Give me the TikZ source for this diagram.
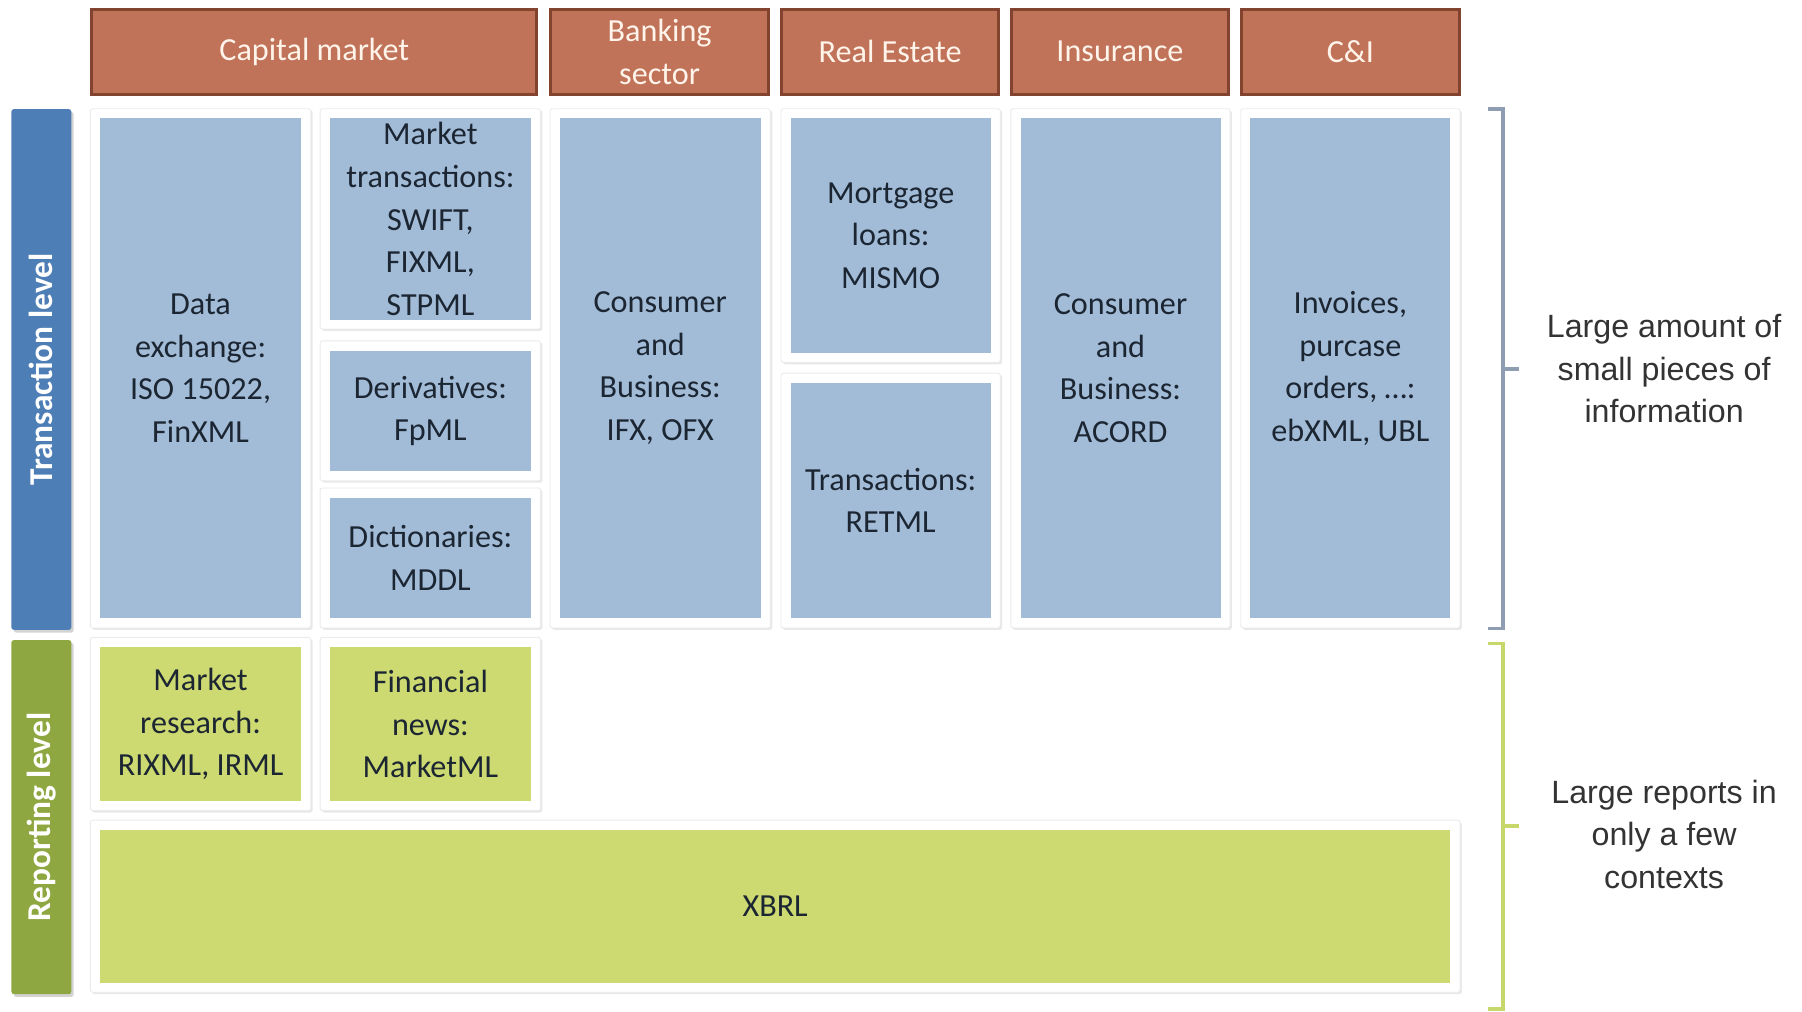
\documentclass[tikz,border=0pt]{standalone}
\usepackage{fontspec}
\setmainfont{Carlito}
\newfontfamily\arialfont{Liberation Sans}
\usetikzlibrary{fit}
\usetikzlibrary{shadows}
\usetikzlibrary{backgrounds}

\definecolor{hdrfill}{HTML}{C1735A}
\definecolor{hdredge}{HTML}{83442F}
\definecolor{hdrtext}{HTML}{FFF4EA}
\definecolor{boxblue}{HTML}{A2BCD7}
\definecolor{boxgreen}{HTML}{CDD971}
\definecolor{barblue}{HTML}{4D7EB6}
\definecolor{bargreen}{HTML}{8EA740}
\definecolor{boxtext}{HTML}{1C2633}
\definecolor{bracegray}{HTML}{8E9DB1}
\definecolor{bracegreen}{HTML}{C8D76A}
\definecolor{notegray}{HTML}{333333}

\tikzset{
  spanning/.style n args={4}{minimum width={(#3-#1)*0.5pt},
    minimum height={(#4-#2)*0.5pt}, at={({(#1+#3)/2},{(#2+#4)/2})}},
  hdr/.style={draw=hdredge, line width=1.3pt, fill=hdrfill, text=hdrtext,
    inner sep=0pt, align=center},
  bluebox/.style={fill=boxblue, inner sep=0pt, align=center, text=boxtext},
  greenbox/.style={fill=boxgreen, inner sep=0pt, align=center, text=boxtext},
  card/.style={fill=white, draw=black!8, rounded corners=1pt, inner sep=4pt,
    drop shadow={opacity=0.18, shadow xshift=0.8pt, shadow yshift=-0.8pt}},
  sidebar/.style={inner sep=0pt, rounded corners=1pt,
    drop shadow={opacity=0.35, shadow xshift=1pt, shadow yshift=-1.2pt}},
  sidetext/.style={rotate=90, text=white, font=\bfseries\fontsize{14.5}{18}\selectfont},
  note/.style={align=center, text=notegray, font=\arialfont\fontsize{14}{18.5}\selectfont},
  brace/.style={line width=1.6pt}
}

\begin{document}
\begin{tikzpicture}[x=0.5pt, y=-0.5pt, font=\fontsize{14}{18.5}\selectfont]
\useasboundingbox (0,0) rectangle (1568,880);

% sector headers
\node[hdr, spanning={80}{8}{467}{82}] (cm) {Capital market};
\node[hdr, spanning={479}{8}{669}{82}] (bank) {Banking\\sector};
\node[hdr, spanning={680}{8}{869}{82}] (re) {Real Estate};
\node[hdr, spanning={880}{8}{1069}{82}] (ins) {Insurance};
\node[hdr, spanning={1080}{8}{1270}{82}] (ci) {C\&I};

% level bars
\node[sidebar, fill=barblue, spanning={10}{95}{62}{548}] (tl) {};
\node[sidetext] (tltext) at (tl) {Transaction level};
\node[sidebar, fill=bargreen, spanning={10}{557}{62}{865}] (rl) {};
\node[sidetext] (rltext) at (rl) {Reporting level};

% transaction level
\node[bluebox, spanning={87}{103}{262}{538}] (dx) {Data\\exchange:\\ISO 15022,\\FinXML};
\node[bluebox, spanning={287}{103}{462}{278}] (mt) {Market\\transactions:\\SWIFT,\\FIXML,\\STPML};
\node[bluebox, spanning={287}{305}{462}{410}] (der) {Derivatives:\\FpML};
\node[bluebox, spanning={287}{433}{462}{538}] (dic) {Dictionaries:\\MDDL};
\node[bluebox, spanning={487}{103}{662}{538}] (cb) {Consumer\\and\\Business:\\IFX, OFX};
\node[bluebox, spanning={688}{103}{862}{307}] (mort) {Mortgage\\loans:\\MISMO};
\node[bluebox, spanning={688}{333}{862}{538}] (ret) {Transactions:\\RETML};
\node[bluebox, spanning={888}{103}{1062}{538}] (acord) {Consumer\\and\\Business:\\ACORD};
\node[bluebox, spanning={1088}{103}{1262}{538}] (inv) {Invoices,\\purcase\\orders, \dots:\\ebXML, UBL};

% reporting level
\node[greenbox, spanning={87}{563}{262}{697}] (mr) {Market\\research:\\RIXML, IRML};
\node[greenbox, spanning={287}{563}{462}{697}] (fn) {Financial\\news:\\MarketML};
\node[greenbox, spanning={87}{722}{1262}{855}] (xbrl) {XBRL};

% white cards behind the boxes
\begin{scope}[on background layer]
\foreach \n in {dx,mt,der,dic,cb,mort,ret,acord,inv,mr,fn,xbrl}
  \node[card, fit=(\n)] (card-\n) {};
\end{scope}

% brackets and notes
\draw[brace, draw=bracegray] (1295,95) -- (1308,95) -- (1308,547) -- (1295,547)
  (1308,321) -- (1322,321);
\draw[brace, draw=bracegreen] (1295,560) -- (1308,560) -- (1308,878) -- (1295,878)
  (1308,719) -- (1322,719);
\node[note] (smallinfo) at (1448,321) {Large amount of\\small pieces of\\information};
\node[note] (fewrep) at (1448,726) {Large reports in\\only a few\\contexts};
\end{tikzpicture}
\end{document}
